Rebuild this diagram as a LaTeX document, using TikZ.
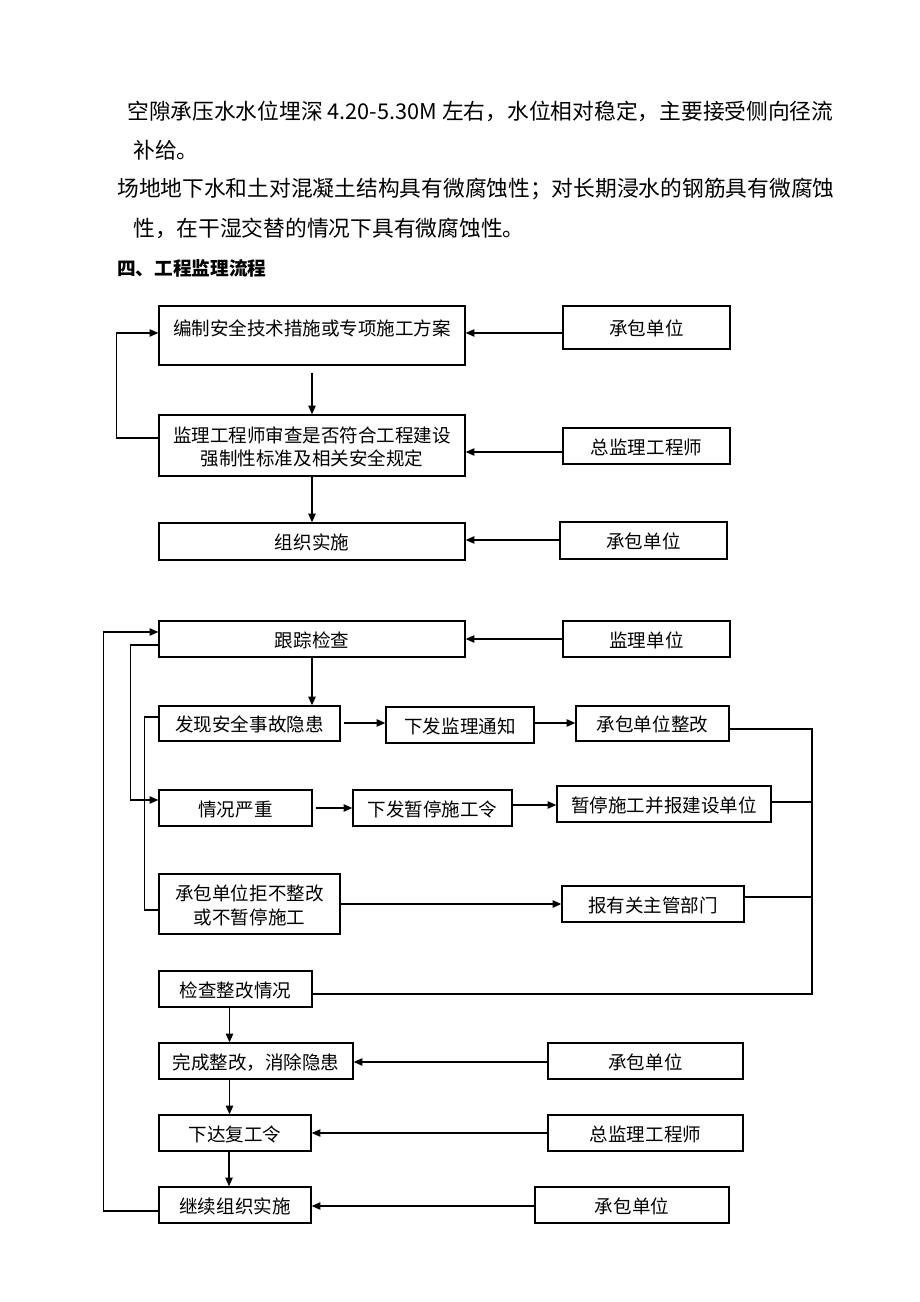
\documentclass[tikz,border=0pt]{standalone}
\usepackage{fontspec}
\setmainfont{Noto Sans CJK SC}
\usetikzlibrary{arrows.meta,fit}
\newcommand\mybox[6]{\node[box, fit={(#2,#3) (#4,#5)}] (#1) {};
  \node[boxtext] (#1t) at ([yshift=-1pt]#1.center) {#6};}
\begin{document}
\begin{tikzpicture}[x=0.75pt,y=-0.75pt,
  box/.style={draw, line width=1pt, inner sep=0pt},
  boxtext/.style={inner sep=0pt, align=center,
    font=\fontsize{13.9pt}{17.5pt}\selectfont},
  arr/.style={line width=1pt, -{Triangle[length=6.5pt,width=5.5pt]}},
  ln/.style={line width=1pt},
  para/.style={anchor=west, inner sep=0pt, font=\fontsize{16.3pt}{20pt}\selectfont}]
\useasboundingbox (0,0) rectangle (920,1302);

% paragraph text
\node[para] (t1) at (127,111) {空隙承压水水位埋深 4.20-5.30M 左右，水位相对稳定，主要接受侧向径流};
\node[para] (t2) at (133,150) {补给。};
\node[para] (t3) at (117,189) {场地地下水和土对混凝土结构具有微腐蚀性；对长期浸水的钢筋具有微腐蚀};
\node[para] (t4) at (133,228) {性，在干湿交替的情况下具有微腐蚀性。};
\node[para, font=\fontsize{14pt}{17pt}\selectfont\bfseries] (h) at (117,268) {四、工程监理流程};

% top section
\mybox{A}{159}{306}{465}{365}{\raisebox{14pt}{编制安全技术措施或专项施工方案}}
\mybox{B}{563}{306}{730}{349}{承包单位}
\mybox{C}{159}{415}{465}{476}{监理工程师审查是否符合工程建设\\强制性标准及相关安全规定}
\mybox{D}{563}{428}{730}{464}{总监理工程师}
\mybox{E}{159}{523}{465}{560}{组织实施}
\mybox{F}{560}{522}{727}{559}{承包单位}

\draw[arr] ([yshift=-4.1pt]B.west) -- ([yshift=-4.1pt]B.west -| A.east);
\draw[arr] ([yshift=-4.5pt]D.west) -- ([yshift=-4.5pt]D.west -| C.east);
\draw[arr] ([yshift=0.4pt]F.west) -- ([yshift=0.4pt]F.west -| E.east);
\draw[arr, shorten <=5.25pt] (A.south) -- (C.north);
\draw[arr] (C.south) -- (E.north);
\draw[arr] ([yshift=5.6pt]C.west) -- ++(-42,0) |- ([yshift=1.9pt]A.west);

% second section
\mybox{G}{159}{621}{465}{657}{跟踪检查}
\mybox{H}{563}{621}{730}{657}{监理单位}
\mybox{P1}{159}{706}{340}{741}{发现安全事故隐患}
\mybox{P2}{386}{707}{534}{743}{下发监理通知}
\mybox{P3}{576}{706}{729}{741}{承包单位整改}
\mybox{Q1}{159}{790}{312}{826}{情况严重}
\mybox{Q2}{353}{790}{512}{826}{下发暂停施工令}
\mybox{Q3}{557}{786}{771}{822}{暂停施工并报建设单位}
\mybox{S1}{159}{874}{340}{934}{承包单位拒不整改\\或不暂停施工}
\mybox{S2}{562}{886}{744}{922}{报有关主管部门}
\mybox{K}{159}{971}{312}{1007}{检查整改情况}
\mybox{L1}{159}{1043}{353}{1079}{完成整改，消除隐患}
\mybox{L2}{548}{1043}{743}{1079}{承包单位}
\mybox{M1}{159}{1115}{311}{1151}{下达复工令}
\mybox{M2}{548}{1115}{743}{1151}{总监理工程师}
\mybox{N1}{159}{1187}{311}{1223}{继续组织实施}
\mybox{N2}{535}{1187}{729}{1223}{承包单位}

\draw[arr] (H.west) -- (H.west -| G.east);
\draw[arr] (G.south) -- (G.south |- P1.north);
\draw[arr, shorten <=2.25pt] ([yshift=0.4pt]P1.east) -- ([yshift=0.4pt]P1.east -| P2.west);
\draw[arr] ([yshift=1.5pt]P2.east) -- ([yshift=1.5pt]P2.east -| P3.west);
\draw[arr, shorten <=2.25pt] (Q1.east) -- (Q1.east -| Q2.west);
\draw[arr] ([yshift=2.25pt]Q2.east) -- ([yshift=2.25pt]Q2.east -| Q3.west);
\draw[arr] (S1.east) -- (S1.east -| S2.west);

% left loops
\draw[arr] ([yshift=-4.5pt]N1.west) -- ++(-55,0) |- ([yshift=5.25pt]G.west);
\draw[arr] ([yshift=-4.5pt]G.west) -- ++(-28,0) |- ([yshift=6pt]Q1.west);
\draw[ln] ([yshift=4.9pt]P1.west) -- ++(-14,0) |- ([yshift=-4.5pt]S1.west);

% right collector
\coordinate (cr) at (812,994);
\draw[ln] ([yshift=-4.1pt]P3.east) -| (cr) -- (cr -| K.east);
\draw[ln] ([yshift=1.5pt]Q3.east) -- ([yshift=1.5pt]Q3.east -| cr);
\draw[ln] ([yshift=5.25pt]S2.east) -- ([yshift=5.25pt]S2.east -| cr);

% lower chain
\draw[arr] ([xshift=-4.5pt]K.south) -- ([xshift=-4.5pt]K.south |- L1.north);
\draw[arr] ([xshift=-4.5pt]K.south |- L1.south) -- ([xshift=-4.5pt]K.south |- M1.north);
\draw[arr] ([xshift=-4.5pt]M1.south) -- ([xshift=-4.5pt]M1.south |- N1.north);
\draw[arr] ([yshift=-0.75pt]L2.west) -- ([yshift=-0.75pt]L2.west -| L1.east);
\draw[arr] (M2.west) -- (M2.west -| M1.east);
\draw[arr] ([yshift=-0.75pt]N2.west) -- ([yshift=-0.75pt]N2.west -| N1.east);
\end{tikzpicture}
\end{document}
